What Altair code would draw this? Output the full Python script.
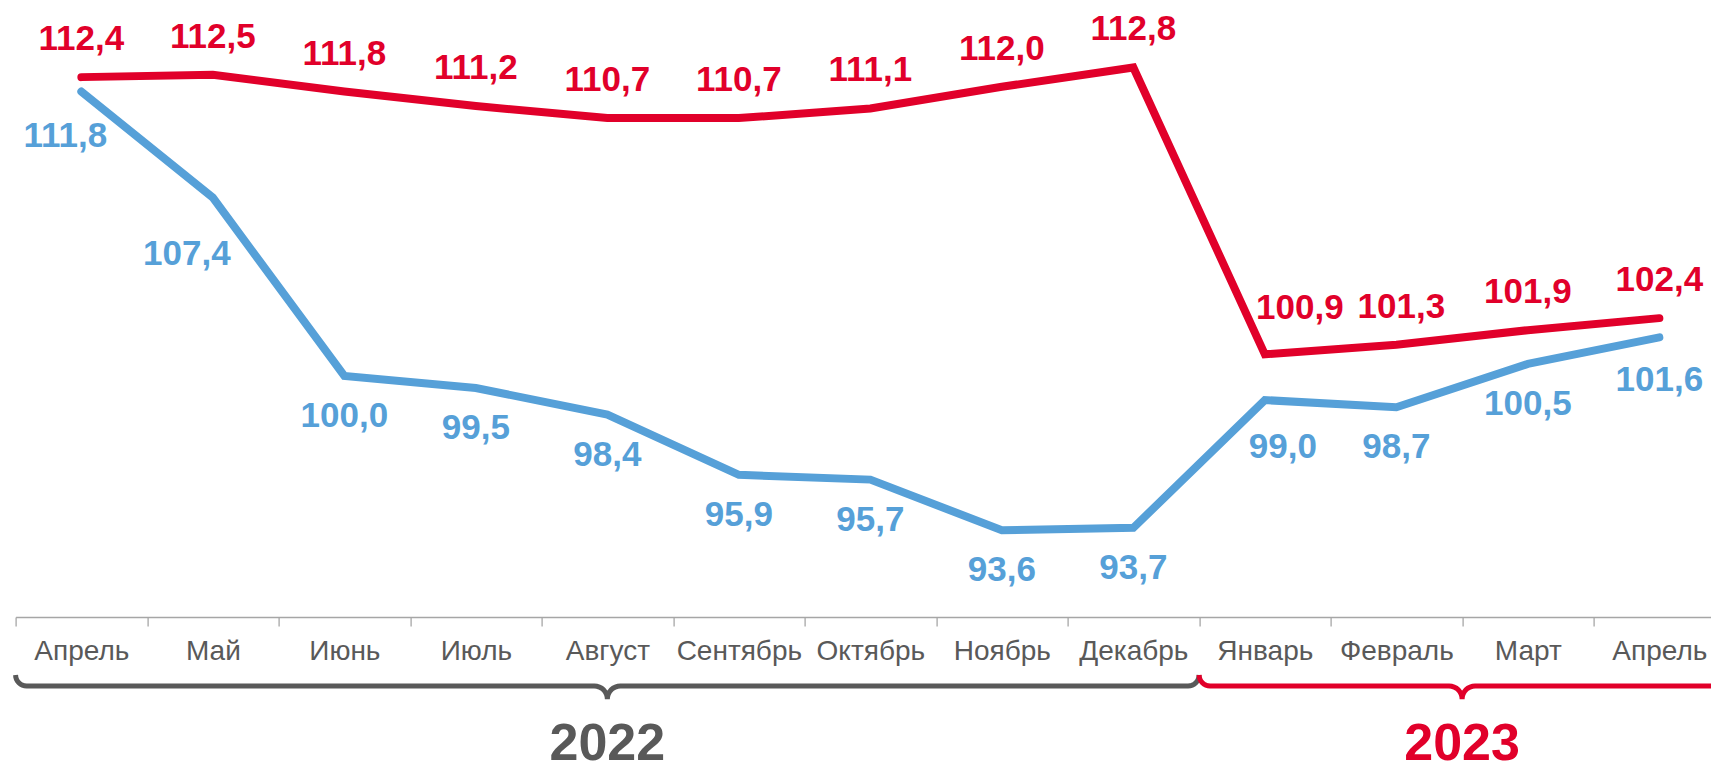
import math
import altair as alt
import pandas as pd

# ---------------- data ----------------
months = ["Апрель", "Май", "Июнь", "Июль", "Август", "Сентябрь", "Октябрь",
          "Ноябрь", "Декабрь", "Январь", "Февраль", "Март", "Апрель"]
red_vals = [112.4, 112.5, 111.8, 111.2, 110.7, 110.7, 111.1, 112.0, 112.8,
            100.9, 101.3, 101.9, 102.4]
blue_vals = [111.8, 107.4, 100.0, 99.5, 98.4, 95.9, 95.7, 93.6, 93.7,
             99.0, 98.7, 100.5, 101.6]
years = ["2022", "2023"]
year_first = [0, 9]    # index of first month of the year
year_last = [8, 12]    # index of last month of the year

# ---------------- label nudges (px) ----------------
red_dx = [0, 0, 0, 0, 0, 0, 0, 0, 0, 35, 5, 0, 0]
red_dy = [0, 0, 0, 0, 0, 0, 0, 0, 0, -8, 0, 0, 0]
blue_dx = [-16, -26, 0, 0, 0, 0, 0, 0, 0, 18, 0, 0, 0]
blue_dy = [4, 16, 0, 0, 0, 0, 0, 0, 0, 7, 0, 0, 3]

# ---------------- style ----------------
RED = "#E1002A"
BLUE = "#56A0D8"
GRAY = "#595959"
AXIS_GRAY = "#A6A6A6"
FONT = "Liberation Sans"

LEFT = 15.6
STEP = 131.5
RANGE_W = STEP * len(months)
W = 1711 - LEFT
H = 617
BOTTOM = 768 - H


def fmt(v):
    return f"{v:.1f}".replace(".", ",")


df = pd.DataFrame({
    "i": list(range(len(months))),
    "month": months,
    "red": red_vals,
    "blue": blue_vals,
    "red_lbl": [fmt(v) for v in red_vals],
    "blue_lbl": [fmt(v) for v in blue_vals],
    "red_dx": red_dx, "red_dy": red_dy,
    "blue_dx": blue_dx, "blue_dy": blue_dy,
})

# brace shapes (x in month-index units, y in px above the brace line)
RISE, DROP, R_END = 11, 13, 11


def brace(x0, x1, name):
    xc = (x0 + x1) / 2
    u = 1.0 / STEP
    pts = []
    n = 8

    def arc(cx, cy, r, a0, a1):
        for k in range(n + 1):
            a = a0 + (a1 - a0) * k / n
            pts.append((cx + r * math.cos(a) * u, cy + r * math.sin(a)))

    arc(x0 + R_END * u, RISE, R_END, math.pi, 1.5 * math.pi)
    arc(xc - DROP * u, -DROP, DROP, 0.5 * math.pi, 0.0)
    arc(xc + DROP * u, -DROP, DROP, math.pi, 0.5 * math.pi)
    arc(x1 - R_END * u, RISE, R_END, 1.5 * math.pi, 2 * math.pi)
    return [{"year": name, "bx": p[0], "by": p[1], "o": k} for k, p in enumerate(pts)]


brace_rows = []
for y, a, b in zip(years, year_first, year_last):
    brace_rows += brace(a - 0.5, b + 0.5, y)
brace_df = pd.DataFrame(brace_rows)

year_df = pd.DataFrame({
    "year": years,
    "xc": [(a + b) / 2 for a, b in zip(year_first, year_last)],
})

label_expr = "[" + ",".join(f"'{m}'" for m in months) + "][round(datum.value + 0.5)] || ''"

x_scale = alt.Scale(domain=[-0.5, len(months) - 0.5], range=[0, RANGE_W], nice=False, zero=False)
x_enc = alt.X(
    "i:Q", scale=x_scale, title=None,
    axis=alt.Axis(
        values=[k - 0.5 for k in range(len(months) + 1)],
        labelExpr=label_expr, labelOffset=STEP / 2,
        tickSize=9, tickColor=AXIS_GRAY, tickWidth=1.3,
        domainColor=AXIS_GRAY, domainWidth=1.5,
        labelFont=FONT, labelFontSize=28, labelColor=GRAY,
        labelPadding=11, grid=False, labelFlush=False,
        labelOverlap=False, labelBound=False,
    ),
)
y_scale = alt.Scale(domain=[90, 115.6], nice=False, zero=False)

base = alt.Chart(df)

red_line = base.mark_line(color=RED, strokeWidth=8, strokeCap="round").encode(
    x=x_enc, y=alt.Y("red:Q", scale=y_scale, axis=None))
blue_line = base.mark_line(color=BLUE, strokeWidth=8, strokeCap="round").encode(
    x=x_enc, y=alt.Y("blue:Q", scale=y_scale, axis=None))

red_text = base.mark_text(font=FONT, fontSize=35, fontWeight="bold", color=RED,
                          baseline="alphabetic",
                          dx=alt.ExprRef(expr="datum.red_dx"),
                          dy=alt.ExprRef(expr="datum.red_dy - 27")).encode(
    x=x_enc, y=alt.Y("red:Q", scale=y_scale, axis=None), text="red_lbl:N")
blue_text = base.mark_text(font=FONT, fontSize=35, fontWeight="bold", color=BLUE,
                           baseline="alphabetic",
                           dx=alt.ExprRef(expr="datum.blue_dx"),
                           dy=alt.ExprRef(expr="datum.blue_dy + 51")).encode(
    x=x_enc, y=alt.Y("blue:Q", scale=y_scale, axis=None), text="blue_lbl:N")

BRACE_Y = 686
brace_layer = alt.Chart(brace_df).mark_line(strokeWidth=5, strokeCap="butt").encode(
    x=alt.X("bx:Q", scale=x_scale),
    y=alt.Y("by:Q", scale=alt.Scale(domain=[0, 100], range=[BRACE_Y, BRACE_Y - 100], zero=False, nice=False), axis=None),
    order="o:Q",
    detail="year:N",
    color=alt.Color("year:N", scale=alt.Scale(domain=years, range=[GRAY, RED]), legend=None),
)

year_text = alt.Chart(year_df).mark_text(font=FONT, fontSize=52, fontWeight="bold",
                                         baseline="alphabetic").encode(
    x=alt.X("xc:Q", scale=x_scale),
    y=alt.value(760),
    text="year:N",
    color=alt.Color("year:N", scale=alt.Scale(domain=years, range=[GRAY, RED]), legend=None),
)

main = alt.layer(red_line, blue_line, red_text, blue_text)
chart = alt.layer(main, brace_layer, year_text).resolve_scale(y="independent").properties(
    width=W, height=H,
    padding={"left": LEFT, "top": 0, "right": 0, "bottom": BOTTOM},
    autosize=alt.AutoSizeParams(type="none"),
    background="white",
).configure_view(stroke=None)

chart.save("out.html", embed_options={"renderer": "svg", "actions": False})
